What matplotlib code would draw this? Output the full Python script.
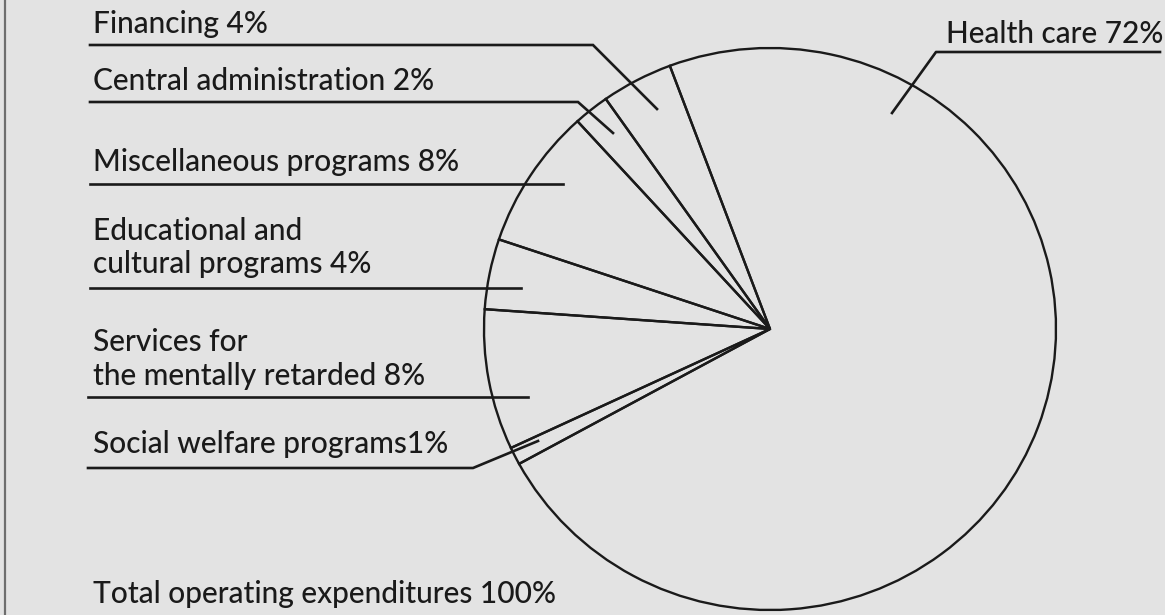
import matplotlib
matplotlib.use("Agg")
import matplotlib.pyplot as plt

# ---- data -------------------------------------------------------------
categories = ["Financing", "Central administration", "Miscellaneous programs",
              "Educational and\ncultural programs", "Services for\nthe mentally retarded",
              "Social welfare programs", "Health care"]
shares = [4, 2, 8, 4, 8, 1, 72]
separators = [" ", " ", " ", " ", " ", "", " "]
total_label = "Total operating expenditures 100%"

# ---- layout (pixel units, origin top-left) -----------------------------
W, H = 1165, 615
CX, CY, RX, RY = 770, 329, 286, 281
bg = "#e3e3e3"
ink = "#1a1a1a"
FONT = ["Lato", "DejaVu Sans"]
FS = 21.5
WEIGHT = "medium"

# text x, first baseline, line step, underline y, underline x0, x1, leader end
layout = [
    (93, 33, 34, 45, 90, 593, (657, 109)),
    (93, 90, 34, 102, 90, 578, (613, 133)),
    (93, 171, 34, 184, 90, 563, None),
    (93, 240, 33, 288, 90, 521, None),
    (93, 351, 34, 397, 88, 528, None),
    (93, 453, 34, 468, 88, 473, (538, 441)),
]
health_layout = (946, 43, 52, 936, 1160, (892, 113))


def px(x):
    return (x - CX) / RX


def py(y):
    return (CY - y) / RY


fig = plt.figure(figsize=(W / 100, H / 100), dpi=100)
fig.patch.set_facecolor(bg)
ax = fig.add_axes([0, 0, 1, 1])
ax.set_facecolor(bg)
ax.pie(shares, startangle=110.5, counterclock=True, radius=1, center=(0, 0),
       wedgeprops=dict(facecolor="none", edgecolor=ink, linewidth=1.7))
ax.set_aspect("auto")
ax.set_xlim(px(0), px(W))
ax.set_ylim(py(H), py(0))
ax.axis("off")

lw_lead = 1.9
for i, (tx, base, step, uy, ux0, ux1, lead) in enumerate(layout):
    text = f"{categories[i]}{separators[i]}{shares[i]}%"
    for k, line in enumerate(text.split("\n")):
        ax.text(px(tx), py(base + k * step), line, family=FONT, fontsize=FS,
                fontweight=WEIGHT, color=ink, ha="left", va="baseline")
    xs = [px(ux0), px(ux1)]
    ys = [py(uy), py(uy)]
    if lead is not None:
        xs.append(px(lead[0]))
        ys.append(py(lead[1]))
    ax.plot(xs, ys, color=ink, lw=lw_lead, solid_joinstyle="miter")

# Health care label (right side)
tx, base, uy, ux0, ux1, lead = health_layout
ax.text(px(tx), py(base), f"{categories[6]}{separators[6]}{shares[6]}%", family=FONT,
        fontsize=FS, fontweight=WEIGHT, color=ink, ha="left", va="baseline")
ax.plot([px(ux1), px(ux0), px(lead[0])], [py(uy), py(uy), py(lead[1])],
        color=ink, lw=lw_lead)

# Total
ax.text(px(93), py(603), total_label, family=FONT, fontsize=FS, fontweight=WEIGHT,
        color=ink, ha="left", va="baseline")

# left border of the scanned page
ax.plot([px(5), px(5)], [py(0), py(H)], color="#6e6e6e", lw=1.6)

fig.savefig("out.png", dpi=100, facecolor=bg)
